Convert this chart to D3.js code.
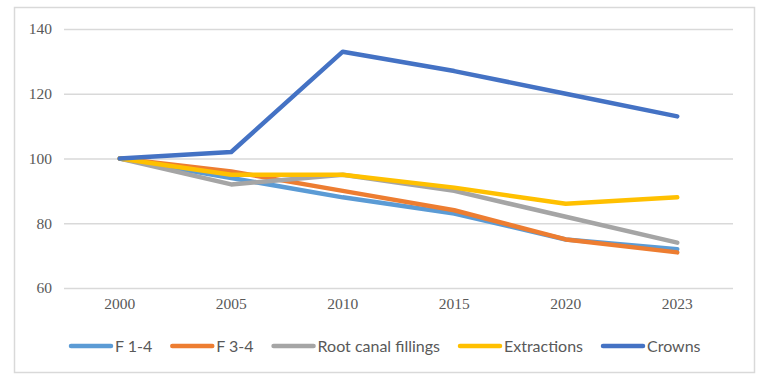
<!DOCTYPE html>
<html><head><meta charset="utf-8">
<script src="https://cdn.jsdelivr.net/npm/d3@7"></script>
<style>body{margin:0;background:#fff;}svg{display:block;}</style>
</head><body><svg id="c" width="767" height="380"></svg>
<script>
const years = ["2000","2005","2010","2015","2020","2023"];
const seriesNames = ["F 1-4","F 3-4","Root canal fillings","Extractions","Crowns"];
const f14 = [100, 94, 88, 83, 75, 72];
const f34 = [100, 96, 90, 84, 75, 71];
const rootCanal = [100, 92, 95, 90, 82, 74];
const extractions = [100, 95, 95, 91, 86, 88];
const crowns = [100, 102, 133, 127, 120, 113];
const yTicks = [60, 80, 100, 120, 140];
const colors = ["#5b9bd5","#ed7d31","#a5a5a5","#ffc000","#4472c4"];
const allSeries = [f14, f34, rootCanal, extractions, crowns];

const svg = d3.select("#c");
svg.append("rect").attr("x",14.5).attr("y",7.5).attr("width",740).attr("height",365)
  .attr("fill","#fff").attr("stroke","#d9d9d9").attr("stroke-width",1.5);

const x = d3.scaleBand().domain(years).range([64,733]);
const y = d3.scaleLinear().domain([60,140]).range([288,29]);

const yAxis = svg.append("g").attr("transform","translate(64,0)")
  .call(d3.axisLeft(y).tickValues(yTicks).tickSize(-669).tickPadding(12));
yAxis.select(".domain").remove();
yAxis.selectAll("line").attr("stroke","#d9d9d9").attr("stroke-width",1.5);
yAxis.selectAll("text").attr("fill","#595959").style("font-family","'Liberation Serif', serif").style("font-size","15.5px");

const xAxis = svg.append("g").attr("transform","translate(0,288)")
  .call(d3.axisBottom(x).tickSize(0).tickPadding(10));
xAxis.select(".domain").remove();
xAxis.selectAll("text").attr("fill","#595959").style("font-family","'Liberation Serif', serif").style("font-size","15.5px");

const line = d3.line().x((d,i)=>x(years[i])+x.bandwidth()/2).y(d=>y(d));
allSeries.forEach((s,k)=>{
  svg.append("path").datum(s).attr("d",line).attr("fill","none")
    .attr("stroke",colors[k]).attr("stroke-width",4.5)
    .attr("stroke-linejoin","round").attr("stroke-linecap","round");
});

// legend
const lg = svg.append("g");
let lx = 71; const ly = 346;
seriesNames.forEach((n,k)=>{
  lg.append("line").attr("x1",lx).attr("x2",lx+40).attr("y1",ly).attr("y2",ly)
    .attr("stroke",colors[k]).attr("stroke-width",4.5).attr("stroke-linecap","round");
  const t = lg.append("text").attr("x",lx+44).attr("y",ly+5.5).text(n)
    .attr("fill","#595959").style("font-family","Lato, sans-serif").style("font-size","16px");
  lx += 44 + t.node().getComputedTextLength() + 20;
});
</script></body></html>
